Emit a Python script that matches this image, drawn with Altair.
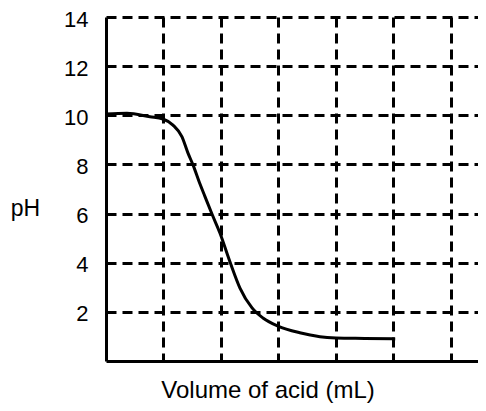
import altair as alt
import pandas as pd

volume = [0.0, 0.365, 0.765, 0.99, 1.165, 1.32, 1.426, 1.513, 1.635, 1.72, 1.843,
          1.983, 2.157, 2.33, 2.54, 2.73, 2.99, 3.37, 3.55, 3.72, 4.0, 4.5, 5.03]
ph = [10.05, 10.08, 9.94, 9.85, 9.6, 9.13, 8.46, 7.98, 7.2, 6.7, 5.98,
      5.2, 4.03, 2.97, 2.16, 1.75, 1.42, 1.15, 1.06, 0.99, 0.94, 0.92, 0.9]
y_ticks = [2, 4, 6, 8, 10, 12, 14]
x_grid = [1, 2, 3, 4, 5, 6]

df = pd.DataFrame({"v": volume, "ph": ph})

FONT = "Liberation Sans"

chart = alt.Chart(df).mark_line(
    color="black", strokeWidth=3, interpolate="monotone"
).encode(
    x=alt.X("v:Q", scale=alt.Scale(domain=[0, 6.4696], nice=False, zero=False),
            axis=alt.Axis(values=x_grid, labels=False, ticks=False,
                          grid=True, gridColor="black", gridWidth=3,
                          gridDash=[10, 6], gridOpacity=1,
                          domainColor="black", domainWidth=3,
                          title="Volume of acid (mL)", titleFont=FONT,
                          titleFontSize=24, titleFontWeight="normal",
                          titleColor="black", titleX=161.5, titleY=36,
                          titleAlign="center", titleBaseline="alphabetic")),
    y=alt.Y("ph:Q", scale=alt.Scale(domain=[0, 14], nice=False),
            axis=alt.Axis(values=y_ticks, ticks=False, labelPadding=18,
                          labelOffset=2,
                          labelFont=FONT, labelFontSize=22, labelColor="black",
                          grid=True, gridColor="black", gridWidth=3,
                          gridDash=[10, 6], gridOpacity=1,
                          domainColor="black", domainWidth=3,
                          title="pH", titleAngle=0, titleFont=FONT,
                          titleFontSize=23, titleFontWeight="normal",
                          titleColor="black", titleX=-81, titleY=198,
                          titleAlign="center", titleBaseline="alphabetic")),
).properties(
    width=372, height=344,
    autosize=alt.AutoSizeParams(type="none"),
    padding={"left": 98, "top": 9, "right": 0, "bottom": 42},
).configure_view(strokeWidth=0)

chart.save("out.html", embed_options={"renderer": "svg", "actions": False})
